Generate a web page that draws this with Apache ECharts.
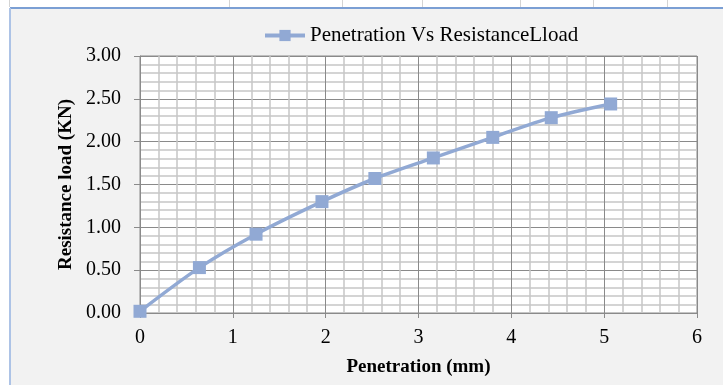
<!DOCTYPE html>
<html>
<head>
<meta charset="utf-8">
<script src="https://cdn.jsdelivr.net/npm/echarts@6/dist/echarts.min.js"></script>
<style>html,body{margin:0;padding:0;background:#fff;}#c{width:723px;height:385px;}</style>
</head>
<body>
<div id="c"></div>
<script>
var seriesName = 'Penetration Vs ResistanceLload';
var penetration = [0, 0.64, 1.25, 1.96, 2.53, 3.16, 3.80, 4.43, 5.07];
var resistance = [0.02, 0.53, 0.92, 1.30, 1.57, 1.81, 2.05, 2.28, 2.44];
var xTitle = 'Penetration (mm)';
var yTitle = 'Resistance load (KN)';

var chart = echarts.init(document.getElementById('c'), null, {renderer: 'canvas'});
var font = 'Liberation Serif';
var topLines = [9, 229, 342, 422, 520, 593, 667];
var graphics = [
  {type: 'rect', shape: {x: 10, y: 8, width: 713, height: 377}, style: {fill: '#f2f2f2'}, z: -10},
  {type: 'line', shape: {x1: 10, y1: 8, x2: 723, y2: 8}, style: {stroke: '#7b9fd4', lineWidth: 2}, z: -5},
  {type: 'line', shape: {x1: 10, y1: 8, x2: 10, y2: 385}, style: {stroke: '#adc3e6', lineWidth: 2}, z: -5}
];
topLines.forEach(function (x) {
  graphics.push({type: 'line', shape: {x1: x + 0.5, y1: 0, x2: x + 0.5, y2: 7}, style: {stroke: '#d4d4d4', lineWidth: 1}, z: -5});
});

var data = penetration.map(function (p, i) { return [p, resistance[i]]; });

chart.setOption({
  animation: false,
  backgroundColor: '#ffffff',
  graphic: graphics,
  legend: {
    left: 258, top: 20,
    itemWidth: 40, itemHeight: 14,
    lineStyle: {width: 4},
    textStyle: {fontFamily: font, fontSize: 21, color: '#000'},
    itemGap: 2,
    data: [seriesName]
  },
  grid: {
    left: 140, right: 26, top: 56, bottom: 72,
    show: true, backgroundColor: '#ffffff', borderColor: '#8a8a8a', borderWidth: 1
  },
  xAxis: {
    type: 'value', min: 0, max: 6, interval: 1,
    name: xTitle, nameLocation: 'middle', nameGap: 45,
    nameTextStyle: {fontFamily: font, fontSize: 19, fontWeight: 'bold', color: '#000'},
    axisLine: {show: true, lineStyle: {color: '#8a8a8a'}},
    axisTick: {show: true, length: 5, lineStyle: {color: '#8a8a8a'}},
    axisLabel: {fontFamily: font, fontSize: 20, color: '#000', margin: 15},
    splitLine: {show: true, lineStyle: {color: '#8a8a8a', width: 1}},
    minorTick: {show: false, splitNumber: 5},
    minorSplitLine: {show: true, lineStyle: {color: '#c6c6c6', width: 1.5}}
  },
  yAxis: {
    type: 'value', min: 0, max: 3, interval: 0.5,
    name: yTitle, nameLocation: 'middle', nameGap: 34,
    nameTextStyle: {fontFamily: font, fontSize: 19, fontWeight: 'bold', color: '#000'},
    axisLine: {show: true, lineStyle: {color: '#8a8a8a'}},
    axisTick: {show: true, length: 6, lineStyle: {color: '#8a8a8a'}},
    axisLabel: {fontFamily: font, fontSize: 20, color: '#000', margin: 19,
      formatter: function (v) { return v.toFixed(2); }},
    splitLine: {show: true, lineStyle: {color: '#8a8a8a', width: 1}},
    minorTick: {show: false, splitNumber: 5},
    minorSplitLine: {show: true, lineStyle: {color: '#c6c6c6', width: 1.5}}
  },
  series: [{
    name: seriesName, type: 'line', data: data,
    smooth: 0.3,
    symbol: 'rect', symbolSize: 13,
    itemStyle: {color: '#91a9d4'},
    lineStyle: {color: '#91a9d4', width: 3.5}
  }]
});
</script>
</body>
</html>
